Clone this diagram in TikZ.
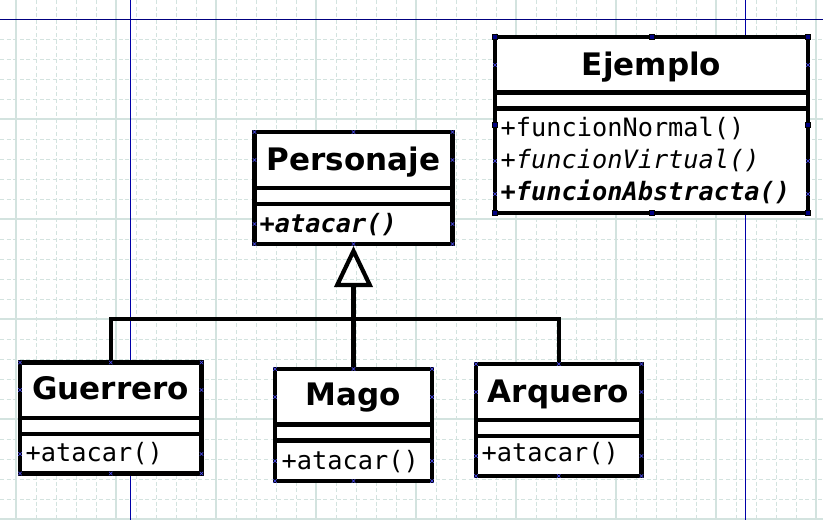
\documentclass[tikz,border=0pt]{standalone}
\usepackage{fontspec}
\setmainfont{DejaVu Sans}
\setmonofont{DejaVu Sans Mono}
\usetikzlibrary{arrows.meta,shapes.misc}
\definecolor{gridc}{HTML}{D3E3DF}
\definecolor{guide}{HTML}{0000A8}
\definecolor{handlec}{HTML}{000080}
\definecolor{crossc}{HTML}{5050FF}
\newcommand\umlbox[5]{\node[classbox, minimum width={#4-#2}, minimum height={#5-#3}] (#1) at (#2,#3) {};}
\newcommand\sepl[2]{\draw[sepline] (#1.west |- 0,#2) -- (#1.east |- 0,#2);}
\newcommand\cmarks[3]{%
  \foreach \an in {north west,north,north east,south west,south,south east}{\node[xmk] at (#1.\an) {};}
  \foreach \yy in {#2,#3}{\node[xmk] at (#1.west |- 0,\yy) {}; \node[xmk] at (#1.east |- 0,\yy) {};}}
\begin{document}
\begin{tikzpicture}[x=1pt,y=-1pt,
  classbox/.style={draw=black, line width=4.4pt, fill=white, inner sep=0pt, outer sep=0pt, anchor=north west},
  sepline/.style={line width=4.4pt, line cap=rect},
  titletext/.style={font=\fontsize{31}{31}\selectfont\bfseries, inner sep=0pt, anchor=base},
  methtext/.style={font=\fontsize{25.3}{25.3}\selectfont\ttfamily, inner sep=0pt, anchor=base west},
  conn/.style={line width=4.2pt},
  gridd/.style={draw=gridc, line width=1pt, dash pattern=on 4pt off 2.6pt},
  grids/.style={draw=gridc, line width=1.4pt},
  guideline/.style={draw=guide, line width=1pt},
  xmk/.style={cross out, draw=crossc, line width=0.5pt, minimum size=3pt, inner sep=0pt},
  hdl/.style={rectangle, fill=handlec, draw=black, line width=0.4pt, minimum size=5pt, inner sep=0pt}
]
\useasboundingbox (0,0) rectangle (823,520);
\fill[white] (0,0) rectangle (823,520);
% grid
\foreach \x in {36,56,...,816}{\draw[gridd] (\x,0) -- (\x,520);}
\foreach \y in {39,59,...,519}{\draw[gridd] (0,\y) -- (823,\y);}
\foreach \x in {16,116,...,816}{\draw[grids] (\x,0) -- (\x,520);}
\foreach \y in {119,219,...,519}{\draw[grids] (0,\y) -- (823,\y);}
% guides
\draw[guideline] (130,0) -- (130,520);
\draw[guideline] (745,0) -- (745,520);
\draw[guideline, draw=handlec, line width=1.4pt] (0,19.5) -- (823,19.5);

% connectors
\coordinate (hub) at (353.5,319);
\umlbox{p}{254.5}{132}{452.5}{244}
\umlbox{g}{20}{362.5}{201.5}{473.5}
\umlbox{m}{275}{369}{432}{481}
\umlbox{a}{476}{364}{641.5}{476}
\draw[conn] (g.north) |- (hub);
\draw[conn] (a.north) |- (hub);
\draw[conn] (m.north) -- (hub);
\draw[conn, -{Triangle[open, length=41pt, width=38pt, line width=4.2pt]}] (hub) -- ([yshift=-2pt]p.south);

% Personaje
\sepl{p}{188}\sepl{p}{204}
\node[titletext] (pt) at (353.5,170.7) {Personaje};
\node[methtext, font=\fontsize{25.3}{25.3}\selectfont\ttfamily\bfseries\itshape] (pm) at (259.5,232) {+atacar()};
\cmarks{p}{160}{224}

% Guerrero
\sepl{g}{418}\sepl{g}{434}
\node[titletext] (gt) at (110.8,399.3) {Guerrero};
\node[methtext] (gm) at (25.5,461.7) {+atacar()};
\cmarks{g}{390}{454}

% Mago
\sepl{m}{424.5}\sepl{m}{440.5}
\node[titletext] (mt) at (353.5,405) {Mago};
\node[methtext] (mm) at (281.5,469) {+atacar()};
\cmarks{m}{397}{461}

% Arquero
\sepl{a}{420}\sepl{a}{436}
\node[titletext] (at) at (558.5,402.3) {Arquero};
\node[methtext] (am) at (481.5,461.7) {+atacar()};
\cmarks{a}{392}{456}

% Ejemplo
\umlbox{e}{495}{37}{808}{213}
\sepl{e}{92.5}\sepl{e}{108.5}
\node[titletext] (et) at (651.5,75) {Ejemplo};
\node[methtext] (e1) at (500.5,136.7) {+funcionNormal()};
\node[methtext, font=\fontsize{25.3}{25.3}\selectfont\ttfamily\itshape] (e2) at (500.5,168.3) {+funcionVirtual()};
\node[methtext, font=\fontsize{25.3}{25.3}\selectfont\ttfamily\bfseries\itshape] (e3) at (500.5,200) {+funcionAbstracta()};
\foreach \yy in {65,161,194}{\node[xmk] at (e.west |- 0,\yy) {}; \node[xmk] at (e.east |- 0,\yy) {};}
\foreach \an in {north west,north,north east,west,east,south west,south,south east}{\node[hdl] at (e.\an) {};}
\end{tikzpicture}
\end{document}
